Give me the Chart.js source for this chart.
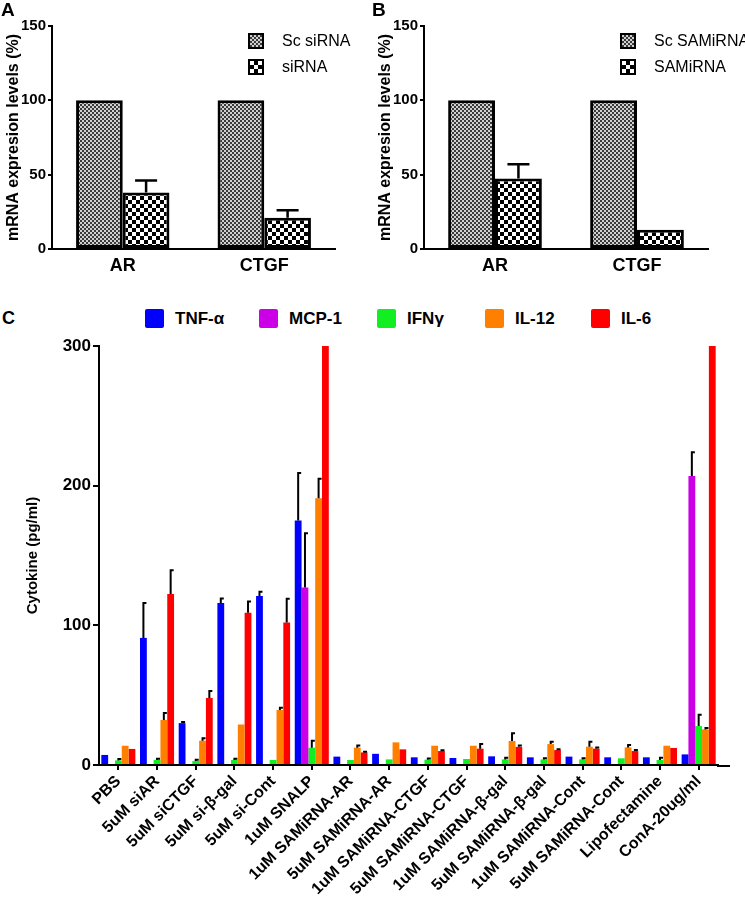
<!DOCTYPE html>
<html><head><meta charset="utf-8">
<script src="https://cdn.jsdelivr.net/npm/chart.js@4.4.1/dist/chart.umd.min.js"></script>
<style>
html,body{margin:0;padding:0;background:#fff;}
#wrap{position:relative;width:745px;height:903px;overflow:hidden;font-family:'Liberation Sans',Arial,sans-serif;background:#fff;}
canvas{position:absolute;}
.lbl{position:absolute;font-weight:bold;color:#000;line-height:1;}
.lg{position:absolute;color:#000;white-space:nowrap;line-height:1;}
.sw{position:absolute;box-sizing:border-box;}
.fine{border:2px solid #000;background:repeating-conic-gradient(#3a3a3a 0 25%,#d0d0d0 0 50%) 0 0/4px 4px;}
.coarse{border:2px solid #000;background:repeating-conic-gradient(#000 0 25%,#fff 0 50%) 0 0/8px 8px;}
</style></head><body>
<div id="wrap">
<canvas id="cA" width="372" height="280" style="left:0;top:0"></canvas>
<canvas id="cB" width="373" height="280" style="left:372px;top:0"></canvas>
<canvas id="cC" width="745" height="573" style="left:0;top:330px"></canvas>

<div class="lbl" style="left:1px;top:0px;font-size:19px;">A</div>
<div class="lbl" style="left:372px;top:0px;font-size:19px;">B</div>
<div class="lbl" style="left:2px;top:309px;font-size:18px;">C</div>

<div class="sw fine" style="left:248px;top:33px;width:16px;height:16px;"></div>
<div class="lg" style="left:282px;top:33px;font-size:16px;">Sc siRNA</div>
<div class="sw coarse" style="left:248px;top:59px;width:16px;height:16px;"></div>
<div class="lg" style="left:282px;top:59px;font-size:16px;">siRNA</div>

<div class="sw fine" style="left:620px;top:33px;width:16px;height:16px;"></div>
<div class="lg" style="left:654px;top:33px;font-size:16px;">Sc SAMiRNA</div>
<div class="sw coarse" style="left:620px;top:59px;width:16px;height:16px;"></div>
<div class="lg" style="left:654px;top:59px;font-size:16px;">SAMiRNA</div>

<div id="legC"></div>
</div>
<script>
// ---------- data ----------
const genesAB = ['AR', 'CTGF'];
const scSiRNA = [100, 100];
const siRNA = [38, 21];
const siRNAErr = [8, 5];
const scSAMiRNA = [100, 100];
const SAMiRNA = [47.5, 13];
const SAMiRNAErr = [9.5, 0];
const zeroErr = [0, 0];

const treatments = ['PBS', '5uM siAR', '5uM siCTGF', '5uM si-β-gal', '5uM si-Cont', '1uM SNALP',
  '1uM SAMiRNA-AR', '5uM SAMiRNA-AR', '1uM SAMiRNA-CTGF', '5uM SAMiRNA-CTGF', '1uM SAMiRNA-β-gal',
  '5uM SAMiRNA-β-gal', '1uM SAMiRNA-Cont', '5uM SAMiRNA-Cont', 'Lipofectamine', 'ConA-20ug/ml'];
const cytokineNames = ['TNF-α', 'MCP-1', 'IFNγ', 'IL-12', 'IL-6'];
const cytokineColors = ['#0000ff', '#cc00e6', '#11ee22', '#ff8000', '#ff0000'];
const tnf    = [7.2, 91, 30, 116, 121, 175, 6, 8, 5.5, 5, 6.2, 5.5, 6, 5.5, 5.5, 7.6];
const tnfErr = [0, 25, 0.8, 3.3, 3, 34, 0, 0, 0, 0, 0, 0, 0, 0, 0, 0];
const mcp    = [0, 0, 0, 0, 0, 127, 0, 0, 0, 0, 0, 0, 0, 0, 0, 207];
const mcpErr = [0, 0, 0, 0, 0, 39, 0, 0, 0, 0, 0, 0, 0, 0, 0, 17];
const ifn    = [3.3, 3.6, 2.9, 3.6, 3.6, 12.4, 3.6, 4, 3.8, 4.3, 4, 4, 4, 4.8, 3.6, 27.9];
const ifnErr = [1, 0.8, 0.8, 0.8, 0, 5, 0, 0, 0.8, 0, 1.2, 0.8, 0.8, 0, 1.6, 8];
const il12    = [13.8, 32.2, 17.4, 29, 39.4, 191, 12.4, 16.2, 13.8, 13.8, 17.2, 15, 13.1, 12.6, 13.8, 25.5];
const il12Err = [0, 5, 1.8, 0, 1.6, 14, 1.6, 0, 0, 0, 5.5, 1.7, 3.6, 1.7, 0, 1];
const il6    = [11.5, 122.4, 48, 109, 102, 300, 9, 11.2, 10, 11.7, 13, 10.7, 11.7, 10, 12.2, 300];
const il6Err = [0, 17, 5, 8, 17, 0, 0.5, 0, 0.5, 3.3, 1, 0.5, 0.8, 0.8, 0, 0];

// ---------- helpers ----------
const F = "'Liberation Sans', Arial, sans-serif";
function checker(cell, c1, c2) {
  const c = document.createElement('canvas');
  c.width = c.height = cell * 2;
  const x = c.getContext('2d');
  x.fillStyle = c2; x.fillRect(0, 0, cell * 2, cell * 2);
  x.fillStyle = c1; x.fillRect(0, 0, cell, cell); x.fillRect(cell, cell, cell, cell);
  return x.createPattern(c, 'repeat');
}
const patFine = checker(2, '#3a3a3a', '#d0d0d0');
const patCoarse = checker(4, '#000000', '#ffffff');

const errorBarPlugin = {
  id: 'errorBars',
  afterDatasetsDraw(chart, args, opts) {
    const ctx = chart.ctx, ys = chart.scales.y;
    ctx.save();
    ctx.strokeStyle = '#000';
    ctx.lineWidth = opts.lineWidth || 2;
    chart.data.datasets.forEach((ds, i) => {
      if (!ds.errors) return;
      const meta = chart.getDatasetMeta(i);
      meta.data.forEach((el, j) => {
        const e = ds.errors[j];
        if (!e) return;
        const yTop = ys.getPixelForValue(ds.data[j] + e);
        ctx.beginPath();
        ctx.moveTo(el.x, el.y);
        ctx.lineTo(el.x, yTop);
        ctx.moveTo(el.x - opts.capLeft, yTop);
        ctx.lineTo(el.x + opts.capRight, yTop);
        ctx.stroke();
      });
    });
    ctx.restore();
  }
};
const axisExtend = {
  id: 'axisExtend',
  afterDraw(chart, args, opts) {
    if (!opts.extra) return;
    const ctx = chart.ctx, a = chart.chartArea;
    ctx.save();
    ctx.strokeStyle = '#000'; ctx.lineWidth = 2;
    ctx.beginPath();
    ctx.moveTo(a.right - 1, Math.round(a.bottom) + 1);
    ctx.lineTo(a.right + opts.extra, Math.round(a.bottom) + 1);
    ctx.stroke();
    ctx.restore();
  }
};

function makeAB(id, scVals, vals, errs, scName, name) {
  return new Chart(document.getElementById(id), {
    type: 'bar',
    data: {
      labels: genesAB,
      datasets: [
        { label: scName, data: scVals, errors: zeroErr, backgroundColor: patFine, borderColor: '#000', borderWidth: 3, borderSkipped: false },
        { label: name, data: vals, errors: errs, backgroundColor: patCoarse, borderColor: '#000', borderWidth: 3, borderSkipped: false }
      ]
    },
    options: {
      responsive: false, animation: false, devicePixelRatio: 1,
      layout: { padding: { top: 26, right: 37, left: 0, bottom: 0 } },
      datasets: { bar: { categoryPercentage: 0.66, barPercentage: 1 } },
      plugins: {
        legend: { display: false }, tooltip: { enabled: false },
        errorBars: { lineWidth: 2.5, capLeft: 11, capRight: 11 },
        axisExtend: { extra: 0 }
      },
      scales: {
        x: {
          ticks: { color: '#000', font: { family: F, size: 18, weight: 'bold' }, padding: 6 },
          grid: { display: false, drawTicks: false },
          border: { color: '#000', width: 2 },
          afterFit: s => { s.height = 31; }
        },
        y: {
          min: 0, max: 150,
          ticks: { stepSize: 50, color: '#000', font: { family: F, size: 15, weight: 'bold' }, padding: 2 },
          grid: { drawOnChartArea: false, tickLength: 4, color: '#000', lineWidth: 2 },
          border: { color: '#000', width: 2 },
          title: { display: true, text: 'mRNA expresion levels (%)', color: '#000', font: { family: F, size: 16, weight: 'bold' }, padding: { top: 4, bottom: 0 } },
          afterFit: s => { s.width = 52; }
        }
      }
    },
    plugins: [errorBarPlugin, axisExtend]
  });
}

makeAB('cA', scSiRNA, siRNA, siRNAErr, 'Sc siRNA', 'siRNA');
makeAB('cB', scSAMiRNA, SAMiRNA, SAMiRNAErr, 'Sc SAMiRNA', 'SAMiRNA');

const seriesC = [tnf, mcp, ifn, il12, il6];
const errsC = [tnfErr, mcpErr, ifnErr, il12Err, il6Err];
new Chart(document.getElementById('cC'), {
  type: 'bar',
  data: {
    labels: treatments,
    datasets: cytokineNames.map((n, i) => ({
      label: n, data: seriesC[i], errors: errsC[i], backgroundColor: cytokineColors[i], borderWidth: 0
    }))
  },
  options: {
    responsive: false, animation: false, devicePixelRatio: 1,
    layout: { padding: { top: 16, right: 27, left: 0, bottom: 0 } },
    datasets: { bar: { categoryPercentage: 0.88, barPercentage: 1 } },
    plugins: {
      legend: { display: false }, tooltip: { enabled: false },
      errorBars: { lineWidth: 2, capLeft: 1, capRight: 3 },
      axisExtend: { extra: 12 }
    },
    scales: {
      x: {
        ticks: { color: '#000', font: { family: F, size: 16, weight: 'bold' }, padding: 2, autoSkip: false, minRotation: 45, maxRotation: 45 },
        grid: { drawOnChartArea: false, offset: false, tickLength: 5, color: '#000', lineWidth: 2 },
        border: { color: '#000', width: 2 },
        afterFit: s => { s.height = 138; }
      },
      y: {
        min: 0, max: 300,
        ticks: { stepSize: 100, color: '#000', font: { family: F, size: 17, weight: 'bold' }, padding: 2 },
        grid: { drawOnChartArea: false, tickLength: 6, color: '#000', lineWidth: 2 },
        border: { color: '#000', width: 2 },
        title: { display: true, text: 'Cytokine (pg/ml)', color: '#000', font: { family: F, size: 15, weight: 'bold' }, padding: { top: 24, bottom: 0 } },
        afterFit: s => { s.width = 99; }
      }
    }
  },
  plugins: [errorBarPlugin, axisExtend]
});

// legend for panel C (HTML)
const legX = [145, 259, 377, 485, 591];
const leg = document.getElementById('legC');
cytokineNames.forEach((n, i) => {
  const sq = document.createElement('div');
  sq.className = 'sw';
  sq.style.cssText = `left:${legX[i]}px;top:309px;width:19px;height:19px;background:${cytokineColors[i]};border-radius:2px;`;
  leg.appendChild(sq);
  const t = document.createElement('div');
  t.className = 'lg';
  t.style.cssText = `left:${legX[i] + 30}px;top:310px;font-size:17px;font-weight:bold;`;
  t.textContent = n;
  leg.appendChild(t);
});
</script>
</body></html>
